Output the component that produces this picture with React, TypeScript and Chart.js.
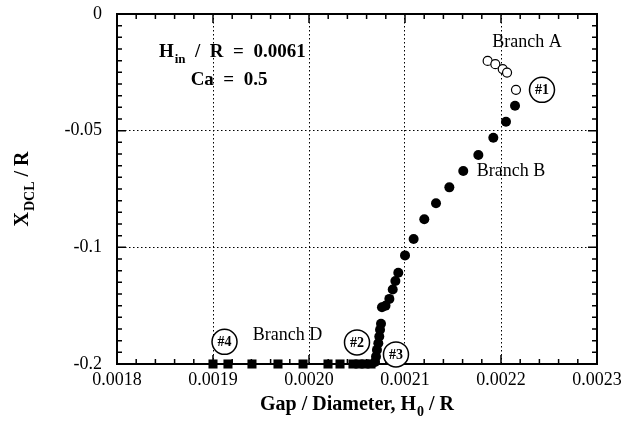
import React, { useEffect, useRef } from "react";
import { Chart, registerables, LinearScale } from "chart.js";

// Axis ranges and tick labels
const X_MIN = 0.0018;
const X_MAX = 0.0023;
const X_STEP = 0.0001;
const Y_TICKS = [0, -0.05, -0.1, -0.2];
const Y_TICK_LABELS = ["0", "-0.05", "-0.1", "-0.2"];

// Branch A: open circles
const branchAX = [0.0021861, 0.0021941, 0.0022018, 0.0022063, 0.0022156];
const branchAY = [-0.0201, -0.0215, -0.0236, -0.0251, -0.0325];

// Branch B: filled circles
const branchBX = [
  0.0022146, 0.0022052, 0.002192, 0.0021764, 0.0021607, 0.0021462, 0.0021323,
  0.0021201, 0.002109, 0.0021, 0.002093, 0.00209, 0.0020872, 0.0020837,
  0.0020797, 0.002076, 0.002075, 0.002074, 0.0020732, 0.0020722, 0.0020708,
  0.0020698, 0.0020688,
];
const branchBY = [
  -0.0393, -0.0462, -0.053, -0.0604, -0.0673, -0.0743, -0.0811, -0.088,
  -0.0964, -0.1069, -0.1218, -0.1288, -0.1362, -0.1442, -0.15, -0.1513,
  -0.1655, -0.1707, -0.1764, -0.1822, -0.1879, -0.1937, -0.1983,
];

// Branch D: filled squares along the floor
const branchDX = [
  0.0019, 0.0019156, 0.0019406, 0.0019677, 0.0019938, 0.0020198, 0.0020323,
  0.0020458, 0.0020521, 0.0020583, 0.0020646,
];
const branchDY = [-0.2, -0.2, -0.2, -0.2, -0.2, -0.2, -0.2, -0.2, -0.2, -0.2, -0.2];

// Text labels placed in data coordinates
const branchLabels = [
  { text: "Branch A", x: 0.0022271, y: -0.012 },
  { text: "Branch B", x: 0.0022104, y: -0.0675 },
  { text: "Branch D", x: 0.0019776, y: -0.175 },
];
const markerLabels = [
  { text: "#1", x: 0.0022427, y: -0.0325 },
  { text: "#2", x: 0.00205, y: -0.1815 },
  { text: "#3", x: 0.0020906, y: -0.1918 },
  { text: "#4", x: 0.001912, y: -0.181 },
];

const SERIF = "'Liberation Serif', 'Times New Roman', serif";

// The lower half of the axis (-0.1 .. -0.2) is drawn at half scale.
const fold = (v: number) => (v >= -0.1 ? v : -0.1 + (v + 0.1) / 2);
const unfold = (f: number) => (f >= -0.1 ? f : -0.1 + (f + 0.1) * 2);

class SplitLinearScale extends LinearScale {
  static id = "splitLinear";
  static defaults = LinearScale.defaults;
  buildTicks() {
    this.start = this.min;
    this.end = this.max;
    return Y_TICKS.map((v) => ({ value: v }));
  }
  getPixelForValue(value: number) {
    return super.getPixelForValue(fold(value));
  }
  getValueForPixel(pixel: number) {
    return unfold(super.getValueForPixel(pixel));
  }
}

Chart.register(...registerables, SplitLinearScale);

type Part = { t: string; sub?: boolean };

function drawRich(
  ctx: CanvasRenderingContext2D,
  parts: Part[],
  x: number,
  y: number,
  size: number,
  align: "left" | "center"
) {
  const main = `bold ${size}px ${SERIF}`;
  const small = `bold ${Math.round(size * 0.68)}px ${SERIF}`;
  const widths = parts.map((p) => {
    ctx.font = p.sub ? small : main;
    return ctx.measureText(p.t).width + (p.sub ? 1 : 0);
  });
  const total = widths.reduce((s, w) => s + w, 0);
  let cx = align === "center" ? x - total / 2 : x;
  ctx.textAlign = "left";
  ctx.textBaseline = "alphabetic";
  parts.forEach((p, i) => {
    ctx.font = p.sub ? small : main;
    ctx.fillText(p.t, cx + (p.sub ? 1 : 0), y + (p.sub ? size * 0.3 : 0));
    cx += widths[i];
  });
}

const decorPlugin = {
  id: "decor",
  afterDraw(chart: any) {
    const { ctx, chartArea: a } = chart;
    const xs = chart.scales.x;
    const ys = chart.scales.y;
    ctx.save();
    ctx.strokeStyle = "#000";
    ctx.fillStyle = "#000";

    // inward tick marks on all four sides
    ctx.lineWidth = 1.5;
    ctx.beginPath();
    const nx = Math.round((X_MAX - X_MIN) / 0.00002);
    for (let i = 0; i <= nx; i++) {
      const px = xs.getPixelForValue(X_MIN + i * 0.00002);
      const len = i % 5 === 0 ? 9 : 5;
      ctx.moveTo(px, a.bottom);
      ctx.lineTo(px, a.bottom - len);
      ctx.moveTo(px, a.top);
      ctx.lineTo(px, a.top + len);
    }
    for (let i = 0; i <= 30; i++) {
      const py = ys.getPixelForValue(unfold(-i * 0.005));
      const len = i % 10 === 0 ? 9 : 5;
      ctx.moveTo(a.left, py);
      ctx.lineTo(a.left + len, py);
      ctx.moveTo(a.right, py);
      ctx.lineTo(a.right - len, py);
    }
    ctx.stroke();

    // frame
    ctx.lineWidth = 2;
    ctx.strokeRect(a.left, a.top, a.right - a.left, a.bottom - a.top);

    // parameter note
    drawRich(
      ctx,
      [{ t: "H" }, { t: "in", sub: true }, { t: "  /  R  =  0.0061" }],
      xs.getPixelForValue(0.0018437),
      ys.getPixelForValue(-0.0184),
      19,
      "left"
    );
    drawRich(
      ctx,
      [{ t: "Ca  =  0.5" }],
      xs.getPixelForValue(0.0019167),
      ys.getPixelForValue(-0.0303),
      19,
      "center"
    );

    // branch names
    ctx.font = `18px ${SERIF}`;
    ctx.textAlign = "center";
    ctx.textBaseline = "middle";
    branchLabels.forEach((l) => {
      ctx.fillText(l.text, xs.getPixelForValue(l.x), ys.getPixelForValue(l.y));
    });

    // circled point markers
    markerLabels.forEach((m) => {
      const px = xs.getPixelForValue(m.x);
      const py = ys.getPixelForValue(m.y);
      ctx.beginPath();
      ctx.lineWidth = 1.5;
      ctx.arc(px, py, 12.5, 0, Math.PI * 2);
      ctx.fillStyle = "#fff";
      ctx.fill();
      ctx.stroke();
      ctx.fillStyle = "#000";
      ctx.font = `bold 14px ${SERIF}`;
      ctx.textAlign = "center";
      ctx.textBaseline = "middle";
      ctx.fillText(m.text, px, py + 1);
    });

    // axis titles
    drawRich(
      ctx,
      [{ t: "Gap / Diameter, H" }, { t: "0", sub: true }, { t: " / R" }],
      (a.left + a.right) / 2,
      410,
      20,
      "center"
    );
    ctx.save();
    ctx.translate(28, (a.top + a.bottom) / 2);
    ctx.rotate(-Math.PI / 2);
    drawRich(ctx, [{ t: "X" }, { t: "DCL", sub: true }, { t: " / R" }], 0, 0, 20, "center");
    ctx.restore();

    ctx.restore();
  },
};

const toPoints = (xs: number[], ys: number[]) => xs.map((x, i) => ({ x, y: ys[i] }));

export default function App() {
  const canvasRef = useRef<HTMLCanvasElement | null>(null);

  useEffect(() => {
    document.body.style.margin = "0";
    const canvas = canvasRef.current;
    if (!canvas) return;

    const gridColor = (edgeA: number, edgeB: number) => (c: any) => {
      const v = c.tick ? c.tick.value : NaN;
      return Math.abs(v - edgeA) < 1e-9 || Math.abs(v - edgeB) < 1e-9 ? "rgba(0,0,0,0)" : "#000";
    };

    const chart = new Chart(canvas, {
      type: "scatter",
      data: {
        datasets: [
          {
            label: "Branch A",
            data: toPoints(branchAX, branchAY),
            pointStyle: "circle",
            pointRadius: 4.5,
            borderWidth: 1.2,
            borderColor: "#000",
            backgroundColor: "#fff",
            clip: false as any,
          },
          {
            label: "Branch B",
            data: toPoints(branchBX, branchBY),
            pointStyle: "circle",
            pointRadius: 5,
            borderWidth: 0,
            borderColor: "#000",
            backgroundColor: "#000",
            clip: false as any,
          },
          {
            label: "Branch D",
            data: toPoints(branchDX, branchDY),
            pointStyle: "rect",
            pointRadius: 6.4,
            borderWidth: 0,
            borderColor: "#000",
            backgroundColor: "#000",
            clip: false as any,
          },
        ],
      },
      options: {
        responsive: false,
        animation: false,
        devicePixelRatio: 1,
        layout: { padding: { top: 14, right: 30, left: 0, bottom: 0 } },
        plugins: { legend: { display: false }, tooltip: { enabled: false } },
        scales: {
          x: {
            type: "linear",
            min: X_MIN,
            max: X_MAX,
            afterFit: (s: any) => {
              s.height = 69;
            },
            ticks: {
              stepSize: X_STEP,
              autoSkip: false,
              maxRotation: 0,
              padding: 5,
              color: "#000",
              font: { family: SERIF, size: 18 },
              callback: (v: any) => Number(v).toFixed(4),
            },
            grid: { color: gridColor(X_MIN, X_MAX), lineWidth: 1, drawTicks: false },
            border: { display: false, dash: [1.5, 2.5] },
          },
          y: {
            type: "splitLinear" as any,
            min: -0.15,
            max: 0,
            afterFit: (s: any) => {
              s.width = 117;
              s.paddingTop = 0;
              s.paddingBottom = 0;
            },
            ticks: {
              autoSkip: false,
              padding: 15,
              color: "#000",
              font: { family: SERIF, size: 18 },
              callback: (v: any) => {
                const i = Y_TICKS.findIndex((t) => Math.abs(t - v) < 1e-9);
                return i >= 0 ? Y_TICK_LABELS[i] : "";
              },
            },
            grid: { color: gridColor(0, -0.2), lineWidth: 1, drawTicks: false },
            border: { display: false, dash: [1.5, 2.5] },
          },
        },
      } as any,
      plugins: [decorPlugin],
    });

    return () => chart.destroy();
  }, []);

  return (
    <div style={{ width: 627, height: 433 }}>
      <canvas ref={canvasRef} width={627} height={433} />
    </div>
  );
}
